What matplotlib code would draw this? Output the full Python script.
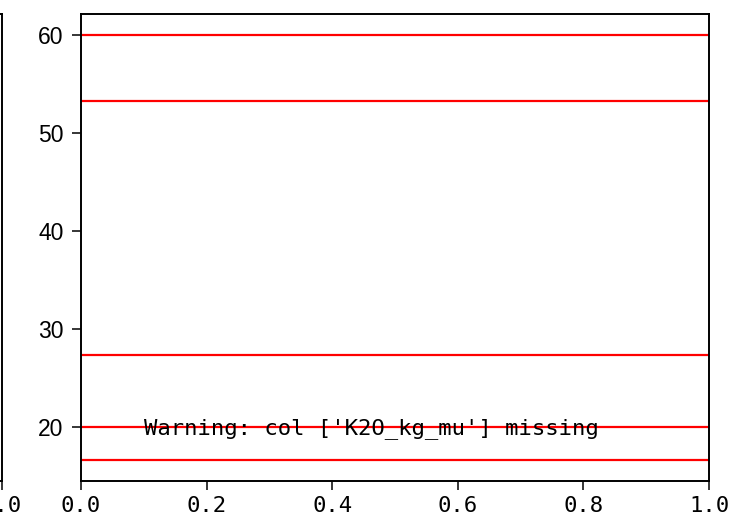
import matplotlib
matplotlib.use("Agg")
import matplotlib.pyplot as plt

# data
line_values = [60.0, 53.33, 27.33, 20.0, 16.67]
y_ticks = [20, 30, 40, 50, 60]
x_ticks = [0.0, 0.2, 0.4, 0.6, 0.8, 1.0]
warning_text = "Warning: col ['K2O_kg_mu'] missing"

W, H = 735, 526
fig = plt.figure(figsize=(W / 100, H / 100), dpi=100)

left, right, top, bottom = 81, 709, 14, 481
ax = fig.add_axes([left / W, (H - bottom) / H, (right - left) / W, (bottom - top) / H])

for v in line_values:
    ax.axhline(v, color="red", lw=1.6)

r = max(line_values) - min(line_values)
ax.set_ylim(min(line_values) - 0.05 * r, max(line_values) + 0.05 * r)
ax.set_xlim(0, 1)
ax.set_yticks(y_ticks)
ax.set_xticks(x_ticks)
ax.set_xticklabels([f"{t:.1f}" for t in x_ticks], family="DejaVu Sans Mono", fontsize=16)
ax.set_yticklabels([str(t) for t in y_ticks], family="Liberation Sans", fontsize=16.5)
ax.tick_params(axis="both", length=6.5, width=1.1)
ax.tick_params(axis="y", pad=6)
ax.tick_params(axis="x", pad=4)
for s in ax.spines.values():
    s.set_linewidth(1.4)

ax.text(0.1, 0.1, warning_text, transform=ax.transAxes, family="DejaVu Sans Mono",
        fontsize=16, color="black")

# partial neighbouring subplot on the left
axl = fig.add_axes([-0.5, (H - bottom) / H, 0.5 + 1.5 / W, (bottom - top) / H])
axl.set_xlim(0, 1)
axl.set_xticks(x_ticks)
axl.set_xticklabels([f"{t:.1f}" for t in x_ticks], family="DejaVu Sans Mono", fontsize=16)
axl.set_yticks([])
axl.tick_params(axis="x", length=6.5, width=1.1, pad=4)
for s in axl.spines.values():
    s.set_linewidth(1.4)

fig.savefig("out.png", dpi=100)
